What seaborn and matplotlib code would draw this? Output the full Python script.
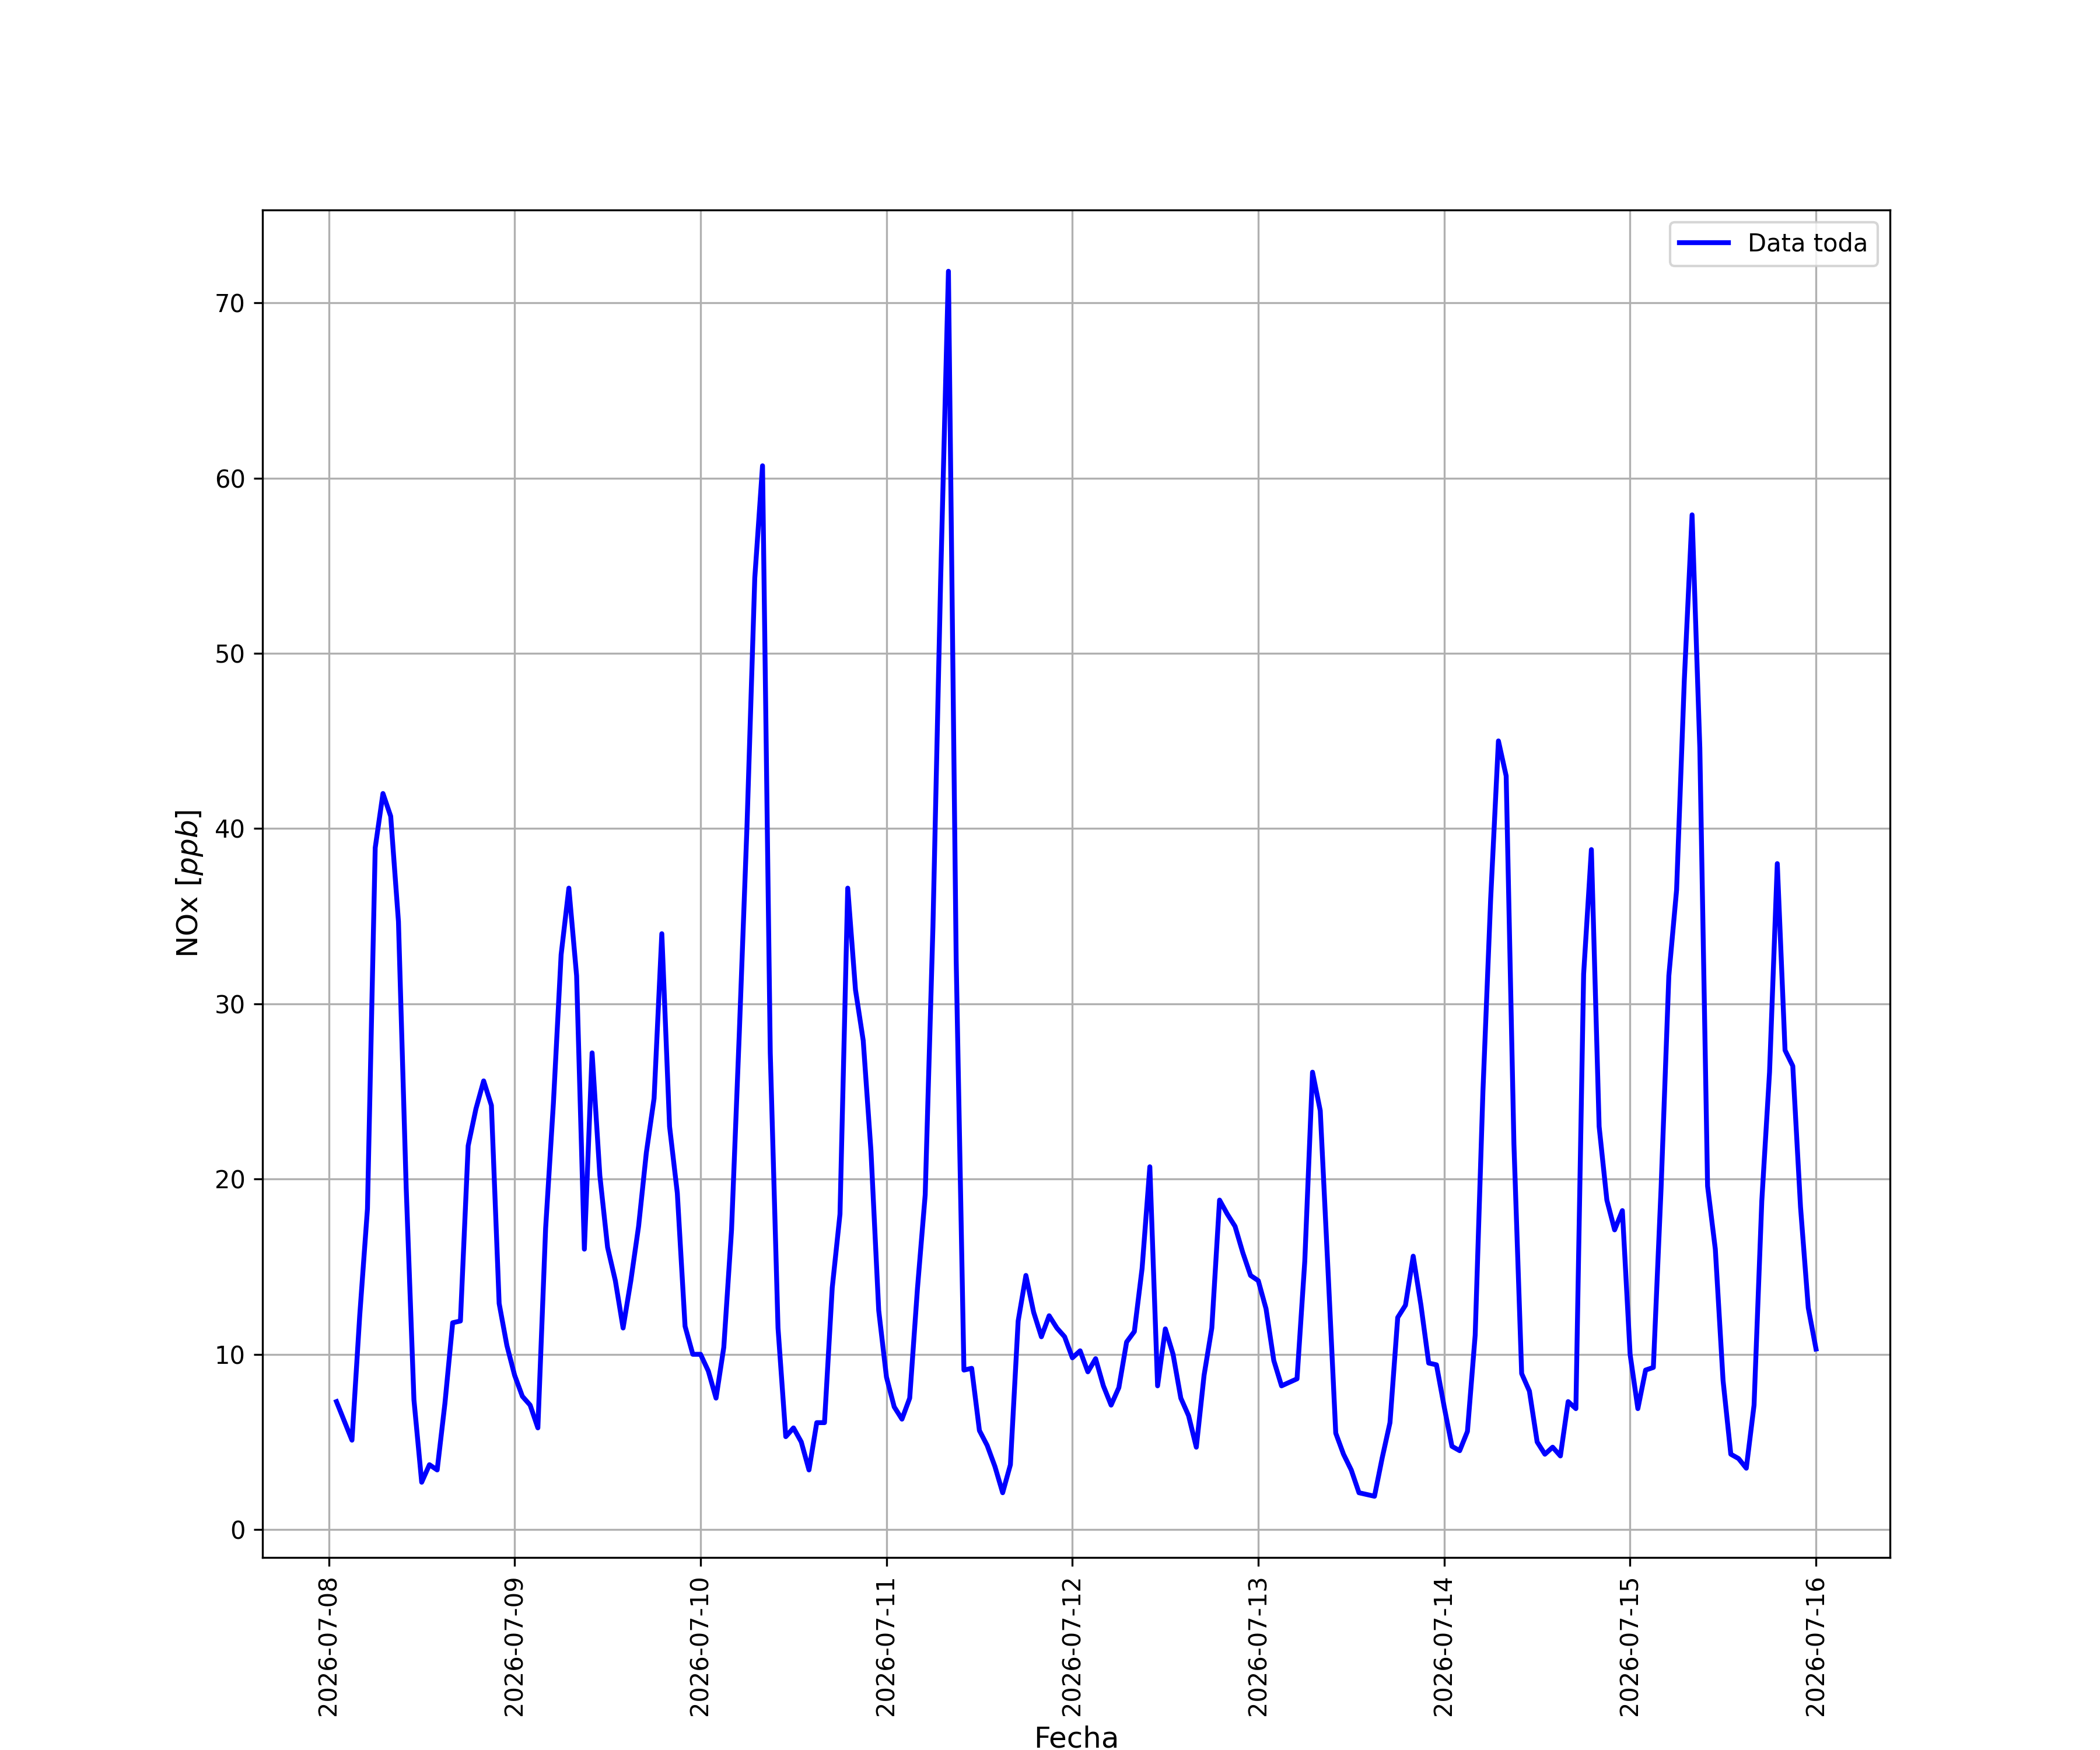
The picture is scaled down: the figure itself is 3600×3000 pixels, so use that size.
import pandas as pd
import matplotlib
matplotlib.use("Agg")
import matplotlib.pyplot as plt
import matplotlib.dates as mdates
import seaborn as sns

# Serie horaria de NOx, desde 2026-07-08 01:00 hasta 2026-07-16 00:00
inicio = "2026-07-08 01:00"

nox_0708 = [7.3, 6.2, 5.1, 12.2, 18.3, 38.9, 42.0, 40.7, 34.7, 19.5, 7.4, 2.7,
            3.7, 3.4, 7.2, 11.8, 11.9, 21.9, 24.0, 25.6, 24.2, 12.9, 10.5, 8.8]
nox_0709 = [7.6, 7.1, 5.8, 17.2, 24.3, 32.8, 36.6, 31.6, 16.0, 27.2, 20.2, 16.1,
            14.2, 11.5, 14.2, 17.3, 21.5, 24.6, 34.0, 23.0, 19.2, 11.6, 10.0, 10.0]
nox_0710 = [9.05, 7.5, 10.4, 17.1, 28.3, 40.2, 54.3, 60.7, 27.2, 11.5, 5.3, 5.8,
            5.0, 3.4, 6.1, 6.1, 13.8, 18.0, 36.6, 30.8, 27.9, 21.6, 12.5, 8.7]
nox_0711 = [7.0, 6.3, 7.5, 13.75, 19.1, 34.4, 54.3, 71.8, 32.5, 9.1, 9.2, 5.65,
            4.8, 3.6, 2.1, 3.7, 11.9, 14.5, 12.4, 11.0, 12.2, 11.5, 11.0, 9.8]
nox_0712 = [10.2, 9.0, 9.75, 8.2, 7.1, 8.1, 10.7, 11.3, 14.9, 20.7, 8.2, 11.45,
            10.0, 7.5, 6.5, 4.7, 8.8, 11.5, 18.8, 18.0, 17.3, 15.8, 14.5, 14.2]
nox_0713 = [12.6, 9.65, 8.2, 8.4, 8.6, 15.3, 26.1, 23.9, 14.8, 5.5, 4.3, 3.4,
            2.1, 2.0, 1.9, 4.1, 6.1, 12.1, 12.8, 15.6, 12.8, 9.5, 9.4, 7.0]
nox_0714 = [4.75, 4.5, 5.6, 11.1, 25.0, 36.0, 45.0, 43.0, 22.0, 8.9, 7.9, 5.0,
            4.3, 4.7, 4.2, 7.3, 6.9, 31.7, 38.8, 23.0, 18.8, 17.1, 18.2, 10.0]
nox_0715 = [6.9, 9.1, 9.25, 19.5, 31.6, 36.5, 48.5, 57.9, 44.6, 19.6, 16.0, 8.5,
            4.3, 4.05, 3.5, 7.1, 18.75, 26.1, 38.0, 27.35, 26.45, 18.4, 12.65, 10.3]

valores = (nox_0708 + nox_0709 + nox_0710 + nox_0711
           + nox_0712 + nox_0713 + nox_0714 + nox_0715)
fechas = pd.date_range(inicio, periods=len(valores), freq="h")

datos = pd.DataFrame({"Fecha": fechas, "NOx": valores})

fig, ax = plt.subplots(figsize=(12, 10), dpi=300)

sns.lineplot(data=datos, x="Fecha", y="NOx", color="blue", linewidth=2,
             label="Data toda", ax=ax)

ax.xaxis.set_major_locator(mdates.DayLocator())
ax.xaxis.set_major_formatter(mdates.DateFormatter("%Y-%m-%d"))
plt.setp(ax.get_xticklabels(), rotation=90)

ax.set_xlabel("Fecha", fontsize=12)
ax.set_ylabel("NOx [$ppb$]", fontsize=12)
ax.grid(True)
ax.legend(loc="upper right")

fig.savefig("out.png", dpi=300)
